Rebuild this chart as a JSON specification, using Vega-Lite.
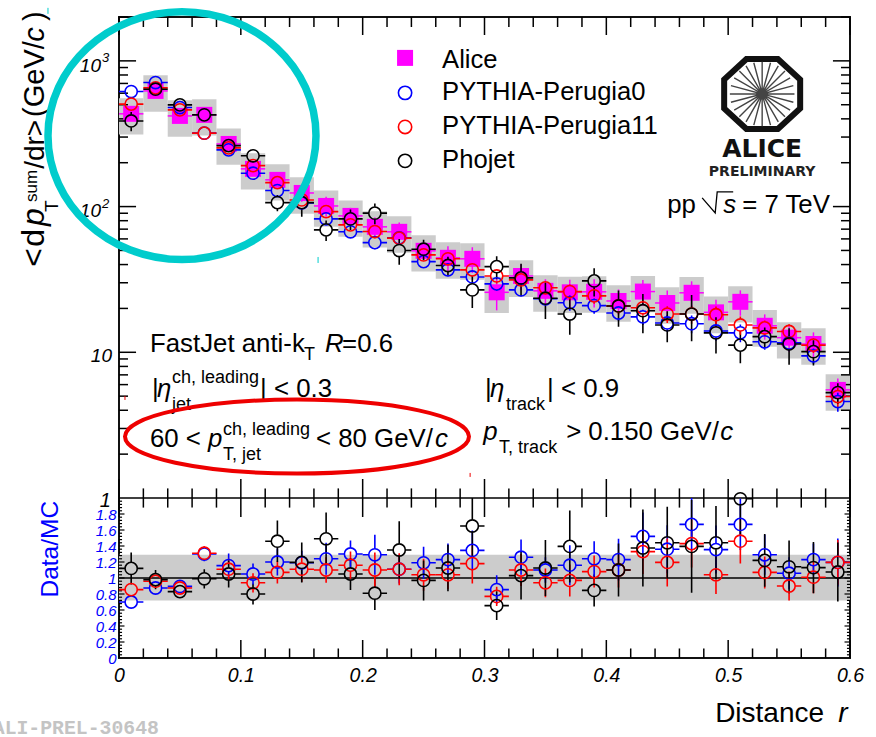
{"$schema":"https://vega.github.io/schema/vega-lite/v6.json","width":731,"height":641,"autosize":{"type":"none"},"padding":{"left":119,"top":17,"right":26,"bottom":79},"background":"white",
"config":{"view":{"stroke":"#111111","strokeWidth":2},"text":{"font":"Liberation Sans"},"axis":{"labelFont":"Liberation Sans","grid":false}},
"datasets":{
"alice":[{"r":0.01,"r0":0,"r1":0.02,"v":433,"lo":411,"hi":455,"slo":312,"shi":554},{"r":0.03,"r0":0.02,"r1":0.04,"v":622,"lo":603,"hi":641,"slo":448,"shi":796},{"r":0.05,"r0":0.04,"r1":0.06,"v":419,"lo":406,"hi":432,"slo":302,"shi":536},{"r":0.07,"r0":0.06,"r1":0.08,"v":426,"lo":413,"hi":439,"slo":307,"shi":545},{"r":0.09,"r0":0.08,"r1":0.1,"v":269,"lo":256,"hi":282,"slo":194,"shi":344},{"r":0.11,"r0":0.1,"r1":0.12,"v":181.5,"lo":172,"hi":191,"slo":131,"shi":232},{"r":0.13,"r0":0.12,"r1":0.14,"v":152.5,"lo":143,"hi":162,"slo":110,"shi":195},{"r":0.15,"r0":0.14,"r1":0.16,"v":124,"lo":108,"hi":140,"slo":89.3,"shi":159},{"r":0.17,"r0":0.16,"r1":0.18,"v":101,"lo":85,"hi":117,"slo":72.7,"shi":129},{"r":0.19,"r0":0.18,"r1":0.2,"v":86.3,"lo":75,"hi":98,"slo":62.1,"shi":110},{"r":0.21,"r0":0.2,"r1":0.22,"v":72.6,"lo":61,"hi":84,"slo":52.3,"shi":92.9},{"r":0.23,"r0":0.22,"r1":0.24,"v":67.1,"lo":56.4,"hi":77.8,"slo":48.3,"shi":85.9},{"r":0.25,"r0":0.24,"r1":0.26,"v":49.7,"lo":43.2,"hi":56.2,"slo":35.8,"shi":63.6},{"r":0.27,"r0":0.26,"r1":0.28,"v":44.5,"lo":35.6,"hi":53.4,"slo":32,"shi":57},{"r":0.29,"r0":0.28,"r1":0.3,"v":43.8,"lo":35,"hi":52.6,"slo":31.5,"shi":56.1},{"r":0.31,"r0":0.3,"r1":0.32,"v":25.8,"lo":19.4,"hi":32.3,"slo":18.6,"shi":33},{"r":0.33,"r0":0.32,"r1":0.34,"v":33.4,"lo":26.7,"hi":40,"slo":24,"shi":42.8},{"r":0.35,"r0":0.34,"r1":0.36,"v":26.4,"lo":21.1,"hi":31.7,"slo":19,"shi":33.8},{"r":0.37,"r0":0.36,"r1":0.38,"v":25.8,"lo":20.1,"hi":31.5,"slo":18.6,"shi":33},{"r":0.39,"r0":0.38,"r1":0.4,"v":26,"lo":20.3,"hi":31.7,"slo":18.7,"shi":33.3},{"r":0.41,"r0":0.4,"r1":0.42,"v":22.5,"lo":18,"hi":27,"slo":16.2,"shi":28.8},{"r":0.43,"r0":0.42,"r1":0.44,"v":26.1,"lo":20.9,"hi":31.3,"slo":18.8,"shi":33.4},{"r":0.45,"r0":0.44,"r1":0.46,"v":21.8,"lo":17,"hi":26.6,"slo":15.7,"shi":27.9},{"r":0.47,"r0":0.46,"r1":0.48,"v":25.6,"lo":20.5,"hi":30.7,"slo":18.4,"shi":32.8},{"r":0.49,"r0":0.48,"r1":0.5,"v":18.8,"lo":14.7,"hi":22.9,"slo":13.5,"shi":24.1},{"r":0.51,"r0":0.5,"r1":0.52,"v":22.2,"lo":17.8,"hi":26.6,"slo":16,"shi":28.4},{"r":0.53,"r0":0.52,"r1":0.54,"v":15.2,"lo":12.2,"hi":18.2,"slo":10.9,"shi":19.5},{"r":0.55,"r0":0.54,"r1":0.56,"v":12.6,"lo":10.1,"hi":15.1,"slo":9.07,"shi":16.1},{"r":0.57,"r0":0.56,"r1":0.58,"v":11.4,"lo":9.1,"hi":13.7,"slo":8.21,"shi":14.6},{"r":0.59,"r0":0.58,"r1":0.6,"v":5.52,"lo":4.4,"hi":6.6,"slo":3.97,"shi":7.07}],
"mc":[
{"m":"PYTHIA-Perugia0","r":0.01,"v":616,"lo":598,"hi":634},{"m":"PYTHIA-Perugia0","r":0.03,"v":710,"lo":689,"hi":731},{"m":"PYTHIA-Perugia0","r":0.05,"v":478,"lo":464,"hi":492},{"m":"PYTHIA-Perugia0","r":0.07,"v":319,"lo":309,"hi":329},{"m":"PYTHIA-Perugia0","r":0.09,"v":245,"lo":235,"hi":255},{"m":"PYTHIA-Perugia0","r":0.11,"v":169.5,"lo":161,"hi":178},{"m":"PYTHIA-Perugia0","r":0.13,"v":128.8,"lo":121,"hi":137},{"m":"PYTHIA-Perugia0","r":0.15,"v":106,"lo":98.6,"hi":113},{"m":"PYTHIA-Perugia0","r":0.17,"v":82.3,"lo":75.7,"hi":88.9},{"m":"PYTHIA-Perugia0","r":0.19,"v":67.1,"lo":61.7,"hi":72.5},{"m":"PYTHIA-Perugia0","r":0.21,"v":56.6,"lo":50.9,"hi":62.3},{"m":"PYTHIA-Perugia0","r":0.23,"v":61,"lo":55.5,"hi":66.5},{"m":"PYTHIA-Perugia0","r":0.25,"v":41.9,"lo":38.1,"hi":45.7},{"m":"PYTHIA-Perugia0","r":0.27,"v":36.8,"lo":33.1,"hi":40.5},{"m":"PYTHIA-Perugia0","r":0.29,"v":32.9,"lo":29.6,"hi":36.2},{"m":"PYTHIA-Perugia0","r":0.31,"v":29.5,"lo":26.3,"hi":32.7},{"m":"PYTHIA-Perugia0","r":0.33,"v":26.8,"lo":24.1,"hi":29.5},{"m":"PYTHIA-Perugia0","r":0.35,"v":23.3,"lo":21,"hi":25.6},{"m":"PYTHIA-Perugia0","r":0.37,"v":21.9,"lo":19.3,"hi":24.5},{"m":"PYTHIA-Perugia0","r":0.39,"v":20.9,"lo":18.4,"hi":23.4},{"m":"PYTHIA-Perugia0","r":0.41,"v":18.6,"lo":16.4,"hi":20.8},{"m":"PYTHIA-Perugia0","r":0.43,"v":17.5,"lo":15.4,"hi":19.6},{"m":"PYTHIA-Perugia0","r":0.45,"v":15.9,"lo":13.8,"hi":18},{"m":"PYTHIA-Perugia0","r":0.47,"v":15.7,"lo":13.5,"hi":17.9},{"m":"PYTHIA-Perugia0","r":0.49,"v":14,"lo":12,"hi":16},{"m":"PYTHIA-Perugia0","r":0.51,"v":13.6,"lo":11.7,"hi":15.5},{"m":"PYTHIA-Perugia0","r":0.53,"v":11.8,"lo":10.4,"hi":13.2},{"m":"PYTHIA-Perugia0","r":0.55,"v":11.6,"lo":10.2,"hi":13},{"m":"PYTHIA-Perugia0","r":0.57,"v":9.45,"lo":8.32,"hi":10.6},{"m":"PYTHIA-Perugia0","r":0.59,"v":4.59,"lo":3.9,"hi":5.28},
{"m":"PYTHIA-Perugia11","r":0.01,"v":505,"lo":490,"hi":520},{"m":"PYTHIA-Perugia11","r":0.03,"v":653,"lo":633,"hi":673},{"m":"PYTHIA-Perugia11","r":0.05,"v":461,"lo":447,"hi":475},{"m":"PYTHIA-Perugia11","r":0.07,"v":319,"lo":309,"hi":329},{"m":"PYTHIA-Perugia11","r":0.09,"v":253,"lo":243,"hi":263},{"m":"PYTHIA-Perugia11","r":0.11,"v":191,"lo":181,"hi":201},{"m":"PYTHIA-Perugia11","r":0.13,"v":146,"lo":137,"hi":155},{"m":"PYTHIA-Perugia11","r":0.15,"v":111,"lo":103,"hi":119},{"m":"PYTHIA-Perugia11","r":0.17,"v":92.4,"lo":85,"hi":99.8},{"m":"PYTHIA-Perugia11","r":0.19,"v":74.9,"lo":68.9,"hi":80.9},{"m":"PYTHIA-Perugia11","r":0.21,"v":67.4,"lo":60.7,"hi":74.1},{"m":"PYTHIA-Perugia11","r":0.23,"v":60.7,"lo":55.2,"hi":66.2},{"m":"PYTHIA-Perugia11","r":0.25,"v":46.6,"lo":42.4,"hi":50.8},{"m":"PYTHIA-Perugia11","r":0.27,"v":43.8,"lo":39.4,"hi":48.2},{"m":"PYTHIA-Perugia11","r":0.29,"v":36.8,"lo":33.1,"hi":40.5},{"m":"PYTHIA-Perugia11","r":0.31,"v":33.4,"lo":29.7,"hi":37.1},{"m":"PYTHIA-Perugia11","r":0.33,"v":31.4,"lo":28.3,"hi":34.5},{"m":"PYTHIA-Perugia11","r":0.35,"v":27.7,"lo":24.9,"hi":30.5},{"m":"PYTHIA-Perugia11","r":0.37,"v":26.1,"lo":23,"hi":29.2},{"m":"PYTHIA-Perugia11","r":0.39,"v":24.4,"lo":21.5,"hi":27.3},{"m":"PYTHIA-Perugia11","r":0.41,"v":20.8,"lo":18.3,"hi":23.3},{"m":"PYTHIA-Perugia11","r":0.43,"v":20.2,"lo":17.8,"hi":22.6},{"m":"PYTHIA-Perugia11","r":0.45,"v":18.3,"lo":15.9,"hi":20.7},{"m":"PYTHIA-Perugia11","r":0.47,"v":18.3,"lo":15.7,"hi":20.9},{"m":"PYTHIA-Perugia11","r":0.49,"v":18.1,"lo":15.6,"hi":20.6},{"m":"PYTHIA-Perugia11","r":0.51,"v":15.4,"lo":13.2,"hi":17.6},{"m":"PYTHIA-Perugia11","r":0.53,"v":14.7,"lo":12.9,"hi":16.5},{"m":"PYTHIA-Perugia11","r":0.55,"v":13.9,"lo":12.2,"hi":15.6},{"m":"PYTHIA-Perugia11","r":0.57,"v":11.2,"lo":9.9,"hi":12.5},{"m":"PYTHIA-Perugia11","r":0.59,"v":4.97,"lo":4.2,"hi":5.7},
{"m":"Phojet","r":0.01,"v":387,"lo":329,"hi":445},{"m":"Phojet","r":0.03,"v":639,"lo":588,"hi":690},{"m":"Phojet","r":0.05,"v":499,"lo":459,"hi":539},{"m":"Phojet","r":0.07,"v":426,"lo":392,"hi":460},{"m":"Phojet","r":0.09,"v":262,"lo":241,"hi":283},{"m":"Phojet","r":0.11,"v":223,"lo":201,"hi":245},{"m":"Phojet","r":0.13,"v":106.5,"lo":92.7,"hi":120},{"m":"Phojet","r":0.15,"v":106.5,"lo":85.2,"hi":128},{"m":"Phojet","r":0.17,"v":69.2,"lo":58.1,"hi":80.3},{"m":"Phojet","r":0.19,"v":82.3,"lo":69.1,"hi":95.5},{"m":"Phojet","r":0.21,"v":90.1,"lo":75.7,"hi":105},{"m":"Phojet","r":0.23,"v":49.9,"lo":39.9,"hi":59.9},{"m":"Phojet","r":0.25,"v":51,"lo":42.8,"hi":59.2},{"m":"Phojet","r":0.27,"v":39.4,"lo":33.5,"hi":45.3},{"m":"Phojet","r":0.29,"v":26.8,"lo":20.1,"hi":33.5},{"m":"Phojet","r":0.31,"v":38.7,"lo":31.7,"hi":45.7},{"m":"Phojet","r":0.33,"v":32.4,"lo":24.3,"hi":40.5},{"m":"Phojet","r":0.35,"v":23.5,"lo":16.9,"hi":30.1},{"m":"Phojet","r":0.37,"v":18.3,"lo":13.2,"hi":23.4},{"m":"Phojet","r":0.39,"v":30.9,"lo":24.1,"hi":37.7},{"m":"Phojet","r":0.41,"v":20.8,"lo":15,"hi":26.6},{"m":"Phojet","r":0.43,"v":19.3,"lo":13.5,"hi":25.1},{"m":"Phojet","r":0.45,"v":15.4,"lo":11.7,"hi":19.1},{"m":"Phojet","r":0.47,"v":18.3,"lo":11.9,"hi":24.7},{"m":"Phojet","r":0.49,"v":13.6,"lo":9.8,"hi":17.4},{"m":"Phojet","r":0.51,"v":11.2,"lo":8.4,"hi":14},{"m":"Phojet","r":0.53,"v":12.8,"lo":10.8,"hi":14.8},{"m":"Phojet","r":0.55,"v":11.4,"lo":8.2,"hi":14.6},{"m":"Phojet","r":0.57,"v":10.1,"lo":8.1,"hi":12.1},{"m":"Phojet","r":0.59,"v":5.29,"lo":4.44,"hi":6.14}],
"ratio":[
{"m":"PYTHIA-Perugia0","r":0.01,"v":0.7,"lo":0.63,"hi":0.77},{"m":"PYTHIA-Perugia0","r":0.03,"v":0.875,"lo":0.825,"hi":0.925},{"m":"PYTHIA-Perugia0","r":0.05,"v":0.895,"lo":0.845,"hi":0.945},{"m":"PYTHIA-Perugia0","r":0.07,"v":1.3,"lo":1.21,"hi":1.39},{"m":"PYTHIA-Perugia0","r":0.09,"v":1.155,"lo":1.005,"hi":1.305},{"m":"PYTHIA-Perugia0","r":0.11,"v":1.05,"lo":0.92,"hi":1.18},{"m":"PYTHIA-Perugia0","r":0.13,"v":1.2,"lo":1.03,"hi":1.37},{"m":"PYTHIA-Perugia0","r":0.15,"v":1.19,"lo":1.04,"hi":1.34},{"m":"PYTHIA-Perugia0","r":0.17,"v":1.24,"lo":1.04,"hi":1.44},{"m":"PYTHIA-Perugia0","r":0.19,"v":1.3,"lo":1.13,"hi":1.47},{"m":"PYTHIA-Perugia0","r":0.21,"v":1.29,"lo":1.04,"hi":1.54},{"m":"PYTHIA-Perugia0","r":0.23,"v":1.11,"lo":0.93,"hi":1.29},{"m":"PYTHIA-Perugia0","r":0.25,"v":1.19,"lo":0.99,"hi":1.39},{"m":"PYTHIA-Perugia0","r":0.27,"v":1.23,"lo":1.03,"hi":1.43},{"m":"PYTHIA-Perugia0","r":0.29,"v":1.345,"lo":1.095,"hi":1.595},{"m":"PYTHIA-Perugia0","r":0.31,"v":0.855,"lo":0.675,"hi":1.035},{"m":"PYTHIA-Perugia0","r":0.33,"v":1.26,"lo":1.04,"hi":1.48},{"m":"PYTHIA-Perugia0","r":0.35,"v":1.1,"lo":0.94,"hi":1.26},{"m":"PYTHIA-Perugia0","r":0.37,"v":1.16,"lo":0.91,"hi":1.41},{"m":"PYTHIA-Perugia0","r":0.39,"v":1.24,"lo":1.02,"hi":1.46},{"m":"PYTHIA-Perugia0","r":0.41,"v":1.23,"lo":0.97,"hi":1.49},{"m":"PYTHIA-Perugia0","r":0.43,"v":1.52,"lo":1.22,"hi":1.82},{"m":"PYTHIA-Perugia0","r":0.45,"v":1.36,"lo":1.06,"hi":1.66},{"m":"PYTHIA-Perugia0","r":0.47,"v":1.67,"lo":1.34,"hi":2},{"m":"PYTHIA-Perugia0","r":0.49,"v":1.355,"lo":1.055,"hi":1.655},{"m":"PYTHIA-Perugia0","r":0.51,"v":1.67,"lo":1.35,"hi":1.99},{"m":"PYTHIA-Perugia0","r":0.53,"v":1.29,"lo":1.04,"hi":1.54},{"m":"PYTHIA-Perugia0","r":0.55,"v":1.06,"lo":0.86,"hi":1.26},{"m":"PYTHIA-Perugia0","r":0.57,"v":1.23,"lo":1.03,"hi":1.43},{"m":"PYTHIA-Perugia0","r":0.59,"v":1.195,"lo":0.895,"hi":1.495},
{"m":"PYTHIA-Perugia11","r":0.01,"v":0.855,"lo":0.785,"hi":0.925},{"m":"PYTHIA-Perugia11","r":0.03,"v":0.96,"lo":0.9,"hi":1.02},{"m":"PYTHIA-Perugia11","r":0.05,"v":0.875,"lo":0.825,"hi":0.925},{"m":"PYTHIA-Perugia11","r":0.07,"v":1.31,"lo":1.22,"hi":1.4},{"m":"PYTHIA-Perugia11","r":0.09,"v":1.11,"lo":0.98,"hi":1.24},{"m":"PYTHIA-Perugia11","r":0.11,"v":0.94,"lo":0.82,"hi":1.06},{"m":"PYTHIA-Perugia11","r":0.13,"v":1.07,"lo":0.93,"hi":1.21},{"m":"PYTHIA-Perugia11","r":0.15,"v":1.11,"lo":0.95,"hi":1.27},{"m":"PYTHIA-Perugia11","r":0.17,"v":1.1,"lo":0.94,"hi":1.26},{"m":"PYTHIA-Perugia11","r":0.19,"v":1.16,"lo":0.99,"hi":1.33},{"m":"PYTHIA-Perugia11","r":0.21,"v":1.1,"lo":0.88,"hi":1.32},{"m":"PYTHIA-Perugia11","r":0.23,"v":1.11,"lo":0.91,"hi":1.31},{"m":"PYTHIA-Perugia11","r":0.25,"v":1.04,"lo":0.84,"hi":1.24},{"m":"PYTHIA-Perugia11","r":0.27,"v":1.04,"lo":0.86,"hi":1.22},{"m":"PYTHIA-Perugia11","r":0.29,"v":1.18,"lo":0.93,"hi":1.43},{"m":"PYTHIA-Perugia11","r":0.31,"v":0.77,"lo":0.65,"hi":0.89},{"m":"PYTHIA-Perugia11","r":0.33,"v":1.1,"lo":0.9,"hi":1.3},{"m":"PYTHIA-Perugia11","r":0.35,"v":0.94,"lo":0.76,"hi":1.12},{"m":"PYTHIA-Perugia11","r":0.37,"v":0.97,"lo":0.77,"hi":1.17},{"m":"PYTHIA-Perugia11","r":0.39,"v":1.08,"lo":0.88,"hi":1.28},{"m":"PYTHIA-Perugia11","r":0.41,"v":1.1,"lo":0.88,"hi":1.32},{"m":"PYTHIA-Perugia11","r":0.43,"v":1.33,"lo":1.05,"hi":1.61},{"m":"PYTHIA-Perugia11","r":0.45,"v":1.195,"lo":0.895,"hi":1.495},{"m":"PYTHIA-Perugia11","r":0.47,"v":1.43,"lo":1.13,"hi":1.73},{"m":"PYTHIA-Perugia11","r":0.49,"v":1.04,"lo":0.8,"hi":1.28},{"m":"PYTHIA-Perugia11","r":0.51,"v":1.46,"lo":1.18,"hi":1.74},{"m":"PYTHIA-Perugia11","r":0.53,"v":1.07,"lo":0.87,"hi":1.27},{"m":"PYTHIA-Perugia11","r":0.55,"v":0.9,"lo":0.72,"hi":1.08},{"m":"PYTHIA-Perugia11","r":0.57,"v":1.01,"lo":0.81,"hi":1.21},{"m":"PYTHIA-Perugia11","r":0.59,"v":1.195,"lo":0.915,"hi":1.475},
{"m":"Phojet","r":0.01,"v":1.12,"lo":0.92,"hi":1.32},{"m":"Phojet","r":0.03,"v":0.98,"lo":0.86,"hi":1.1},{"m":"Phojet","r":0.05,"v":0.83,"lo":0.75,"hi":0.91},{"m":"Phojet","r":0.07,"v":0.99,"lo":0.87,"hi":1.11},{"m":"Phojet","r":0.09,"v":1.05,"lo":0.88,"hi":1.22},{"m":"Phojet","r":0.11,"v":0.8,"lo":0.67,"hi":0.93},{"m":"Phojet","r":0.13,"v":1.46,"lo":1.2,"hi":1.72},{"m":"Phojet","r":0.15,"v":1.195,"lo":0.945,"hi":1.445},{"m":"Phojet","r":0.17,"v":1.49,"lo":1.16,"hi":1.82},{"m":"Phojet","r":0.19,"v":1.05,"lo":0.85,"hi":1.25},{"m":"Phojet","r":0.21,"v":0.81,"lo":0.6,"hi":1.02},{"m":"Phojet","r":0.23,"v":1.35,"lo":0.99,"hi":1.71},{"m":"Phojet","r":0.25,"v":0.97,"lo":0.72,"hi":1.22},{"m":"Phojet","r":0.27,"v":1.125,"lo":0.835,"hi":1.415},{"m":"Phojet","r":0.29,"v":1.65,"lo":1.25,"hi":2},{"m":"Phojet","r":0.31,"v":0.655,"lo":0.475,"hi":0.835},{"m":"Phojet","r":0.33,"v":1.03,"lo":0.73,"hi":1.33},{"m":"Phojet","r":0.35,"v":1.125,"lo":0.775,"hi":1.475},{"m":"Phojet","r":0.37,"v":1.395,"lo":0.945,"hi":1.845},{"m":"Phojet","r":0.39,"v":0.845,"lo":0.645,"hi":1.045},{"m":"Phojet","r":0.41,"v":1.1,"lo":0.77,"hi":1.43},{"m":"Phojet","r":0.43,"v":1.375,"lo":0.895,"hi":1.855},{"m":"Phojet","r":0.45,"v":1.44,"lo":0.99,"hi":1.89},{"m":"Phojet","r":0.47,"v":1.395,"lo":0.815,"hi":1.975},{"m":"Phojet","r":0.49,"v":1.44,"lo":0.98,"hi":1.9},{"m":"Phojet","r":0.51,"v":1.99,"lo":1.54,"hi":2},{"m":"Phojet","r":0.53,"v":1.22,"lo":0.89,"hi":1.55},{"m":"Phojet","r":0.55,"v":1.14,"lo":0.81,"hi":1.47},{"m":"Phojet","r":0.57,"v":1.13,"lo":0.81,"hi":1.45},{"m":"Phojet","r":0.59,"v":1.075,"lo":0.705,"hi":1.445}],
"xMajor":[{"r":0},{"r":0.1},{"r":0.2},{"r":0.3},{"r":0.4},{"r":0.5},{"r":0.6}],
"xMinor":[{"r":0.02},{"r":0.04},{"r":0.06},{"r":0.08},{"r":0.12},{"r":0.14},{"r":0.16},{"r":0.18},{"r":0.22},{"r":0.24},{"r":0.26},{"r":0.28},{"r":0.32},{"r":0.34},{"r":0.36},{"r":0.38},{"r":0.42},{"r":0.44},{"r":0.46},{"r":0.48},{"r":0.52},{"r":0.54},{"r":0.56},{"r":0.58}],
"logMajor":[{"v":10},{"v":100},{"v":1000}],
"logMinor":[{"v":2},{"v":3},{"v":4},{"v":5},{"v":6},{"v":7},{"v":8},{"v":9},{"v":20},{"v":30},{"v":40},{"v":50},{"v":60},{"v":70},{"v":80},{"v":90},{"v":200},{"v":300},{"v":400},{"v":500},{"v":600},{"v":700},{"v":800},{"v":900},{"v":2000}],
"ratMajor":[{"v":0.2},{"v":0.4},{"v":0.6},{"v":0.8},{"v":1},{"v":1.2},{"v":1.4},{"v":1.6},{"v":1.8}],
"ratMinor":[{"v":0.04},{"v":0.08},{"v":0.12},{"v":0.16},{"v":0.24},{"v":0.28},{"v":0.32},{"v":0.36},{"v":0.44},{"v":0.48},{"v":0.52},{"v":0.56},{"v":0.64},{"v":0.68},{"v":0.72},{"v":0.76},{"v":0.84},{"v":0.88},{"v":0.92},{"v":0.96},{"v":1.04},{"v":1.08},{"v":1.12},{"v":1.16},{"v":1.24},{"v":1.28},{"v":1.32},{"v":1.36},{"v":1.44},{"v":1.48},{"v":1.52},{"v":1.56},{"v":1.64},{"v":1.68},{"v":1.72},{"v":1.76},{"v":1.84},{"v":1.88},{"v":1.92},{"v":1.96}],
"txtMain":[{"r":0.02545,"v":10.06,"t":"FastJet anti-k"},{"r":0.1831,"v":10.06,"t":"=0.6"},{"r":0.0271,"v":4.94,"t":"|"},{"r":0.1158,"v":4.94,"t":"| < 0.3"},{"r":0.02545,"v":2.24,"t":"60 <"},{"r":0.1617,"v":2.24,"t":"< 80 GeV/"},{"r":0.3005,"v":4.94,"t":"|"},{"r":0.3514,"v":4.94,"t":"| < 0.9"},{"r":0.367,"v":2.5,"t":"> 0.150 GeV/"},{"r":0.4499,"v":90.5,"t":"pp"},{"r":0.5115,"v":90.5,"t":"= 7 TeV"}],
"txtMainIt":[{"r":0.1691,"v":10.06,"t":"R"},{"r":0.0312,"v":4.94,"t":"η"},{"r":0.0731,"v":2.24,"t":"p"},{"r":0.2594,"v":2.24,"t":"c"},{"r":0.3046,"v":4.94,"t":"η"},{"r":0.2989,"v":2.5,"t":"p"},{"r":0.4934,"v":2.5,"t":"c"},{"r":0.4959,"v":90.5,"t":"s"}],
"txtSub":[{"r":0.1519,"v":8.87,"t":"T"},{"r":0.0435,"v":6.17,"t":"ch, leading"},{"r":0.0435,"v":4.02,"t":"jet"},{"r":0.0854,"v":2.71,"t":"ch, leading"},{"r":0.0854,"v":1.83,"t":"T, jet"},{"r":0.3177,"v":4.02,"t":"track"},{"r":0.312,"v":2.04,"t":"T, track"}],
"legendRows":[{"r":0.2652,"v":1016,"t":"Alice"},{"r":0.2652,"v":608,"t":"PYTHIA-Perugia0"},{"r":0.2652,"v":355,"t":"PYTHIA-Perugia11"},{"r":0.2652,"v":209,"t":"Phojet"}],
"legendMc":[{"r":0.2348,"v":603,"m":"PYTHIA-Perugia0"},{"r":0.2348,"v":352,"m":"PYTHIA-Perugia11"},{"r":0.2348,"v":206,"m":"Phojet"}],
"logLabels":[{"r":-0.0148,"v":840.4,"t":"10"},{"r":-0.0148,"v":84.9,"t":"10"},{"r":-0.00575,"v":8.59,"t":"10"}],
"logExp":[{"r":-0.014,"v":984,"t":"3"},{"r":-0.014,"v":97.97,"t":"2"}]
},
"layer":[
{"layer":[
{"data":{"name":"alice"},"mark":{"type":"rect","color":"#cccccc"},"encoding":{"x":{"field":"r0","type":"quantitative","scale":{"domain":[0,0.6]},"axis":null},"x2":{"field":"r1"},"y":{"field":"slo","type":"quantitative","scale":{"type":"log","domain":[1,2000],"range":[481,0]},"axis":null},"y2":{"field":"shi"}}},
{"data":{"name":"logMajor"},"mark":{"type":"rule","color":"#000","strokeWidth":1.5},"encoding":{"x":{"datum":0,"type":"quantitative","scale":{"domain":[0,0.6]},"axis":null},"x2":{"datum":0.014},"y":{"field":"v","type":"quantitative","scale":{"type":"log","domain":[1,2000],"range":[481,0]},"axis":null}}},
{"data":{"name":"logMinor"},"mark":{"type":"rule","color":"#000","strokeWidth":1.5},"encoding":{"x":{"datum":0,"type":"quantitative","scale":{"domain":[0,0.6]},"axis":null},"x2":{"datum":0.0074},"y":{"field":"v","type":"quantitative","scale":{"type":"log","domain":[1,2000],"range":[481,0]},"axis":null}}},
{"data":{"name":"logMajor"},"mark":{"type":"rule","color":"#000","strokeWidth":1.5},"encoding":{"x":{"datum":0.6,"type":"quantitative","scale":{"domain":[0,0.6]},"axis":null},"x2":{"datum":0.586},"y":{"field":"v","type":"quantitative","scale":{"type":"log","domain":[1,2000],"range":[481,0]},"axis":null}}},
{"data":{"name":"logMinor"},"mark":{"type":"rule","color":"#000","strokeWidth":1.5},"encoding":{"x":{"datum":0.6,"type":"quantitative","scale":{"domain":[0,0.6]},"axis":null},"x2":{"datum":0.5926},"y":{"field":"v","type":"quantitative","scale":{"type":"log","domain":[1,2000],"range":[481,0]},"axis":null}}},
{"data":{"name":"xMajor"},"mark":{"type":"rule","color":"#000","strokeWidth":1.5},"encoding":{"x":{"field":"r","type":"quantitative","scale":{"domain":[0,0.6]},"axis":null},"y":{"datum":2000,"type":"quantitative","scale":{"type":"log","domain":[1,2000],"range":[481,0]},"axis":null},"y2":{"datum":1505}}},
{"data":{"name":"xMinor"},"mark":{"type":"rule","color":"#000","strokeWidth":1.5},"encoding":{"x":{"field":"r","type":"quantitative","scale":{"domain":[0,0.6]},"axis":null},"y":{"datum":2000,"type":"quantitative","scale":{"type":"log","domain":[1,2000],"range":[481,0]},"axis":null},"y2":{"datum":1708}}},
{"data":{"name":"alice"},"mark":{"type":"rule","color":"#ff00ff","strokeWidth":1.5},"encoding":{"x":{"field":"r","type":"quantitative","scale":{"domain":[0,0.6]},"axis":null},"y":{"field":"lo","type":"quantitative","scale":{"type":"log","domain":[1,2000],"range":[481,0]},"axis":null},"y2":{"field":"hi"}}},
{"data":{"name":"alice"},"mark":{"type":"point","shape":"M-1,0L1,0","size":595,"filled":false,"stroke":"#ff00ff","strokeWidth":1.5,"opacity":1},"encoding":{"x":{"field":"r","type":"quantitative","scale":{"domain":[0,0.6]},"axis":null},"y":{"field":"v","type":"quantitative","scale":{"type":"log","domain":[1,2000],"range":[481,0]},"axis":null}}},
{"data":{"name":"alice"},"mark":{"type":"point","shape":"square","size":256,"filled":true,"color":"#ff00ff","opacity":1},"encoding":{"x":{"field":"r","type":"quantitative","scale":{"domain":[0,0.6]},"axis":null},"y":{"field":"v","type":"quantitative","scale":{"type":"log","domain":[1,2000],"range":[481,0]},"axis":null}}},
{"data":{"name":"mc"},"mark":{"type":"rule","strokeWidth":1.6,"strokeDash":[0,6.4,2000]},"encoding":{"x":{"field":"r","type":"quantitative","scale":{"domain":[0,0.6]},"axis":null},"y":{"field":"v","type":"quantitative","scale":{"type":"log","domain":[1,2000],"range":[481,0]},"axis":null},"y2":{"field":"hi"},"color":{"field":"m","type":"nominal","scale":{"domain":["PYTHIA-Perugia0","PYTHIA-Perugia11","Phojet"],"range":["#0000ff","#ff0000","#000000"]},"legend":null}}},
{"data":{"name":"mc"},"mark":{"type":"rule","strokeWidth":1.6,"strokeDash":[0,6.4,2000]},"encoding":{"x":{"field":"r","type":"quantitative","scale":{"domain":[0,0.6]},"axis":null},"y":{"field":"v","type":"quantitative","scale":{"type":"log","domain":[1,2000],"range":[481,0]},"axis":null},"y2":{"field":"lo"},"color":{"field":"m","type":"nominal","scale":{"domain":["PYTHIA-Perugia0","PYTHIA-Perugia11","Phojet"],"range":["#0000ff","#ff0000","#000000"]},"legend":null}}},
{"data":{"name":"mc"},"mark":{"type":"point","shape":"M-1,0L-.5,0M.5,0L1,0M-.5,0A.5,.5 0 1 0 .5,0A.5,.5 0 1 0 -.5,0","size":595,"filled":false,"strokeWidth":1.6,"opacity":1},"encoding":{"x":{"field":"r","type":"quantitative","scale":{"domain":[0,0.6]},"axis":null},"y":{"field":"v","type":"quantitative","scale":{"type":"log","domain":[1,2000],"range":[481,0]},"axis":null},"color":{"field":"m","type":"nominal","scale":{"domain":["PYTHIA-Perugia0","PYTHIA-Perugia11","Phojet"],"range":["#0000ff","#ff0000","#000000"]},"legend":null}}},
{"data":{"name":"legendRows"},"mark":{"type":"text","fontSize":25.6,"align":"left","baseline":"middle","color":"#000"},"encoding":{"x":{"field":"r","type":"quantitative","scale":{"domain":[0,0.6]},"axis":null},"y":{"field":"v","type":"quantitative","scale":{"type":"log","domain":[1,2000],"range":[481,0]},"axis":null},"text":{"field":"t"}}},
{"data":{"values":[{"r":0.2348,"v":1048}]},"mark":{"type":"point","shape":"square","size":256,"filled":true,"color":"#ff00ff","opacity":1},"encoding":{"x":{"field":"r","type":"quantitative","scale":{"domain":[0,0.6]},"axis":null},"y":{"field":"v","type":"quantitative","scale":{"type":"log","domain":[1,2000],"range":[481,0]},"axis":null}}},
{"data":{"name":"legendMc"},"mark":{"type":"point","shape":"circle","size":177,"filled":false,"strokeWidth":1.6,"opacity":1},"encoding":{"x":{"field":"r","type":"quantitative","scale":{"domain":[0,0.6]},"axis":null},"y":{"field":"v","type":"quantitative","scale":{"type":"log","domain":[1,2000],"range":[481,0]},"axis":null},"color":{"field":"m","type":"nominal","scale":{"domain":["PYTHIA-Perugia0","PYTHIA-Perugia11","Phojet"],"range":["#0000ff","#ff0000","#000000"]},"legend":null}}},
{"data":{"name":"txtMain"},"mark":{"type":"text","fontSize":25.8,"align":"left","baseline":"alphabetic","color":"#000"},"encoding":{"x":{"field":"r","type":"quantitative","scale":{"domain":[0,0.6]},"axis":null},"y":{"field":"v","type":"quantitative","scale":{"type":"log","domain":[1,2000],"range":[481,0]},"axis":null},"text":{"field":"t"}}},
{"data":{"name":"txtMainIt"},"mark":{"type":"text","fontSize":25.8,"fontStyle":"italic","align":"left","baseline":"alphabetic","color":"#000"},"encoding":{"x":{"field":"r","type":"quantitative","scale":{"domain":[0,0.6]},"axis":null},"y":{"field":"v","type":"quantitative","scale":{"type":"log","domain":[1,2000],"range":[481,0]},"axis":null},"text":{"field":"t"}}},
{"data":{"name":"txtSub"},"mark":{"type":"text","fontSize":18,"align":"left","baseline":"alphabetic","color":"#000"},"encoding":{"x":{"field":"r","type":"quantitative","scale":{"domain":[0,0.6]},"axis":null},"y":{"field":"v","type":"quantitative","scale":{"type":"log","domain":[1,2000],"range":[481,0]},"axis":null},"text":{"field":"t"}}},
{"data":{"values":[{"r":0.491,"v":107.7}]},"mark":{"type":"point","shape":"M-.94,-.25L-.125,.69L0,-.625L1,-.625","size":1024,"filled":false,"stroke":"#000","strokeWidth":1.3,"opacity":1},"encoding":{"x":{"field":"r","type":"quantitative","scale":{"domain":[0,0.6]},"axis":null},"y":{"field":"v","type":"quantitative","scale":{"type":"log","domain":[1,2000],"range":[481,0]},"axis":null}}},
{"data":{"values":[{"r":0.5279,"v":593}]},"mark":{"type":"point","shape":"M-.414,-.92L.414,-.92L1,-.38L1,.38L.414,.92L-.414,.92L-1,.38L-1,-.38Z","size":5776,"filled":false,"stroke":"#111","strokeWidth":6,"opacity":1},"encoding":{"x":{"field":"r","type":"quantitative","scale":{"domain":[0,0.6]},"axis":null},"y":{"field":"v","type":"quantitative","scale":{"type":"log","domain":[1,2000],"range":[481,0]},"axis":null}}},
{"data":{"values":[{"r":0.5279,"v":593}]},"mark":{"type":"point","shape":"M-.85,0L.85,0M-.821,-.22L.821,.22M-.736,-.425L.736,.425M-.601,-.601L.601,.601M-.425,-.736L.425,.736M-.22,-.821L.22,.821M0,-.85L0,.85M.22,-.821L-.22,.821M.425,-.736L-.425,.736M.601,-.601L-.601,.601M.736,-.425L-.736,.425M.821,-.22L-.821,.22","size":5776,"filled":false,"stroke":"#444","strokeWidth":1.4,"opacity":1},"encoding":{"x":{"field":"r","type":"quantitative","scale":{"domain":[0,0.6]},"axis":null},"y":{"field":"v","type":"quantitative","scale":{"type":"log","domain":[1,2000],"range":[481,0]},"axis":null}}},
{"data":{"values":[{"r":0.5279,"v":219.4,"t":"ALICE"}]},"mark":{"type":"text","font":"DejaVu Sans","fontWeight":"bold","fontSize":25,"align":"center","baseline":"alphabetic","color":"#111"},"encoding":{"x":{"field":"r","type":"quantitative","scale":{"domain":[0,0.6]},"axis":null},"y":{"field":"v","type":"quantitative","scale":{"type":"log","domain":[1,2000],"range":[481,0]},"axis":null},"text":{"field":"t"}}},
{"data":{"values":[{"r":0.5279,"v":162.4,"t":"PRELIMINARY"}]},"mark":{"type":"text","font":"DejaVu Sans","fontWeight":"bold","fontSize":14,"align":"center","baseline":"alphabetic","color":"#222"},"encoding":{"x":{"field":"r","type":"quantitative","scale":{"domain":[0,0.6]},"axis":null},"y":{"field":"v","type":"quantitative","scale":{"type":"log","domain":[1,2000],"range":[481,0]},"axis":null},"text":{"field":"t"}}},
{"data":{"name":"logLabels"},"mark":{"type":"text","fontSize":19,"fontStyle":"italic","align":"right","baseline":"alphabetic","color":"#000"},"encoding":{"x":{"field":"r","type":"quantitative","scale":{"domain":[0,0.6]},"axis":null},"y":{"field":"v","type":"quantitative","scale":{"type":"log","domain":[1,2000],"range":[481,0]},"axis":null},"text":{"field":"t"}}},
{"data":{"name":"logExp"},"mark":{"type":"text","fontSize":13,"fontStyle":"italic","align":"left","baseline":"alphabetic","color":"#000"},"encoding":{"x":{"field":"r","type":"quantitative","scale":{"domain":[0,0.6]},"axis":null},"y":{"field":"v","type":"quantitative","scale":{"type":"log","domain":[1,2000],"range":[481,0]},"axis":null},"text":{"field":"t"}}},
{"data":{"values":[{"r":-0.0616,"v":38.6,"t":"<"},{"r":-0.0616,"v":52.9,"t":"d"}]},"mark":{"type":"text","fontSize":32,"angle":270,"align":"left","baseline":"alphabetic","color":"#000"},"encoding":{"x":{"field":"r","type":"quantitative","scale":{"domain":[0,0.6]},"axis":null},"y":{"field":"v","type":"quantitative","scale":{"type":"log","domain":[1,2000],"range":[481,0]},"axis":null},"text":{"field":"t"}}},
{"data":{"values":[{"r":-0.0616,"v":181.5,"t":"/dr>"}]},"mark":{"type":"text","fontSize":28,"angle":270,"align":"left","baseline":"alphabetic","color":"#000"},"encoding":{"x":{"field":"r","type":"quantitative","scale":{"domain":[0,0.6]},"axis":null},"y":{"field":"v","type":"quantitative","scale":{"type":"log","domain":[1,2000],"range":[481,0]},"axis":null},"text":{"field":"t"}}},
{"data":{"values":[{"r":-0.0616,"v":412.6,"t":"(GeV/"},{"r":-0.0616,"v":1881,"t":")"}]},"mark":{"type":"text","fontSize":29,"angle":270,"align":"left","baseline":"alphabetic","color":"#000"},"encoding":{"x":{"field":"r","type":"quantitative","scale":{"domain":[0,0.6]},"axis":null},"y":{"field":"v","type":"quantitative","scale":{"type":"log","domain":[1,2000],"range":[481,0]},"axis":null},"text":{"field":"t"}}},
{"data":{"values":[{"r":-0.0616,"v":73.7,"t":"p"}]},"mark":{"type":"text","fontSize":32,"fontStyle":"italic","angle":270,"align":"left","baseline":"alphabetic","color":"#000"},"encoding":{"x":{"field":"r","type":"quantitative","scale":{"domain":[0,0.6]},"axis":null},"y":{"field":"v","type":"quantitative","scale":{"type":"log","domain":[1,2000],"range":[481,0]},"axis":null},"text":{"field":"t"}}},
{"data":{"values":[{"r":-0.0616,"v":1350,"t":"c"}]},"mark":{"type":"text","fontSize":29,"fontStyle":"italic","angle":270,"align":"left","baseline":"alphabetic","color":"#000"},"encoding":{"x":{"field":"r","type":"quantitative","scale":{"domain":[0,0.6]},"axis":null},"y":{"field":"v","type":"quantitative","scale":{"type":"log","domain":[1,2000],"range":[481,0]},"axis":null},"text":{"field":"t"}}},
{"data":{"values":[{"r":-0.0673,"v":107.7,"t":"sum"}]},"mark":{"type":"text","fontSize":17,"angle":270,"align":"left","baseline":"alphabetic","color":"#000"},"encoding":{"x":{"field":"r","type":"quantitative","scale":{"domain":[0,0.6]},"axis":null},"y":{"field":"v","type":"quantitative","scale":{"type":"log","domain":[1,2000],"range":[481,0]},"axis":null},"text":{"field":"t"}}},
{"data":{"values":[{"r":-0.0501,"v":91.9,"t":"T"}]},"mark":{"type":"text","fontSize":19,"angle":270,"align":"left","baseline":"alphabetic","color":"#000"},"encoding":{"x":{"field":"r","type":"quantitative","scale":{"domain":[0,0.6]},"axis":null},"y":{"field":"v","type":"quantitative","scale":{"type":"log","domain":[1,2000],"range":[481,0]},"axis":null},"text":{"field":"t"}}},
{"data":{"values":[{"r":0.0517,"v":306.7}]},"mark":{"type":"point","shape":"M-1,0A1,.925 0 1 1 1,0A1,.925 0 1 1 -1,0Z","size":71824,"filled":false,"stroke":"#00cccc","strokeWidth":7.5,"opacity":1},"encoding":{"x":{"field":"r","type":"quantitative","scale":{"domain":[0,0.6]},"axis":null},"y":{"field":"v","type":"quantitative","scale":{"type":"log","domain":[1,2000],"range":[481,0]},"axis":null}}},
{"data":{"values":[{"r":0.1461,"v":2.64}]},"mark":{"type":"point","shape":"M-1,0A1,.215 0 1 1 1,0A1,.215 0 1 1 -1,0Z","size":118336,"filled":false,"stroke":"#ee0000","strokeWidth":4,"opacity":1},"encoding":{"x":{"field":"r","type":"quantitative","scale":{"domain":[0,0.6]},"axis":null},"y":{"field":"v","type":"quantitative","scale":{"type":"log","domain":[1,2000],"range":[481,0]},"axis":null}}},
{"data":{"values":[{"r":-0.0583,"v":2204},{"r":0.1634,"v":43}]},"mark":{"type":"point","shape":"M0,-1L0,1","size":36,"filled":false,"stroke":"#00cccc","strokeWidth":1,"opacity":1},"encoding":{"x":{"field":"r","type":"quantitative","scale":{"domain":[0,0.6]},"axis":null},"y":{"field":"v","type":"quantitative","scale":{"type":"log","domain":[1,2000],"range":[481,0]},"axis":null}}},
{"data":{"values":[{"r":0.0049,"v":4.86},{"r":0.2882,"v":1.44}]},"mark":{"type":"point","shape":"M0,-1L0,1","size":16,"filled":false,"stroke":"#ee0000","strokeWidth":1,"opacity":1},"encoding":{"x":{"field":"r","type":"quantitative","scale":{"domain":[0,0.6]},"axis":null},"y":{"field":"v","type":"quantitative","scale":{"type":"log","domain":[1,2000],"range":[481,0]},"axis":null}}}
]},
{"layer":[
{"data":{"values":[{"r":0,"r2":0.6,"lo":0.72,"hi":1.29}]},"mark":{"type":"rect","color":"#cccccc"},"encoding":{"x":{"field":"r","type":"quantitative","scale":{"domain":[0,0.6]},"axis":{"orient":"bottom","values":[0,0.1,0.2,0.3,0.4,0.5,0.6],"format":"~g","title":null,"ticks":false,"domain":false,"labelFontStyle":"italic","labelFontSize":19.5,"labelColor":"#000","labelPadding":8,"labelFlush":false}},"x2":{"field":"r2"},"y":{"field":"lo","type":"quantitative","scale":{"domain":[0,2],"range":[641,481]},"axis":{"orient":"left","values":[0,0.2,0.4,0.6,0.8,1,1.2,1.4,1.6,1.8],"format":"~g","title":null,"ticks":false,"domain":false,"labelFontStyle":"italic","labelFontSize":15,"labelColor":"#0000ff","labelPadding":3}},"y2":{"field":"hi"}}},
{"data":{"values":[{"v":1},{"v":2}]},"mark":{"type":"rule","color":"#000","strokeWidth":1.5},"encoding":{"y":{"field":"v","type":"quantitative","scale":{"domain":[0,2],"range":[641,481]},"axis":null}}},
{"data":{"name":"ratMajor"},"mark":{"type":"rule","color":"#000","strokeWidth":1.2},"encoding":{"x":{"datum":0,"type":"quantitative","scale":{"domain":[0,0.6]},"axis":null},"x2":{"datum":0.0045},"y":{"field":"v","type":"quantitative","scale":{"domain":[0,2],"range":[641,481]},"axis":null}}},
{"data":{"name":"ratMinor"},"mark":{"type":"rule","color":"#000","strokeWidth":1.2},"encoding":{"x":{"datum":0,"type":"quantitative","scale":{"domain":[0,0.6]},"axis":null},"x2":{"datum":0.0025},"y":{"field":"v","type":"quantitative","scale":{"domain":[0,2],"range":[641,481]},"axis":null}}},
{"data":{"name":"ratMajor"},"mark":{"type":"rule","color":"#000","strokeWidth":1.2},"encoding":{"x":{"datum":0.6,"type":"quantitative","scale":{"domain":[0,0.6]},"axis":null},"x2":{"datum":0.5955},"y":{"field":"v","type":"quantitative","scale":{"domain":[0,2],"range":[641,481]},"axis":null}}},
{"data":{"name":"ratMinor"},"mark":{"type":"rule","color":"#000","strokeWidth":1.2},"encoding":{"x":{"datum":0.6,"type":"quantitative","scale":{"domain":[0,0.6]},"axis":null},"x2":{"datum":0.5975},"y":{"field":"v","type":"quantitative","scale":{"domain":[0,2],"range":[641,481]},"axis":null}}},
{"data":{"name":"xMajor"},"mark":{"type":"rule","color":"#000","strokeWidth":1.5},"encoding":{"x":{"field":"r","type":"quantitative","scale":{"domain":[0,0.6]},"axis":null},"y":{"datum":2.2375,"type":"quantitative","scale":{"domain":[0,2],"range":[641,481]},"axis":null},"y2":{"datum":1.7625}}},
{"data":{"name":"xMinor"},"mark":{"type":"rule","color":"#000","strokeWidth":1.5},"encoding":{"x":{"field":"r","type":"quantitative","scale":{"domain":[0,0.6]},"axis":null},"y":{"datum":2.12,"type":"quantitative","scale":{"domain":[0,2],"range":[641,481]},"axis":null},"y2":{"datum":1.88}}},
{"data":{"name":"xMajor"},"mark":{"type":"rule","color":"#000","strokeWidth":1.5},"encoding":{"x":{"field":"r","type":"quantitative","scale":{"domain":[0,0.6]},"axis":null},"y":{"datum":0,"type":"quantitative","scale":{"domain":[0,2],"range":[641,481]},"axis":null},"y2":{"datum":0.225}}},
{"data":{"name":"xMinor"},"mark":{"type":"rule","color":"#000","strokeWidth":1.5},"encoding":{"x":{"field":"r","type":"quantitative","scale":{"domain":[0,0.6]},"axis":null},"y":{"datum":0,"type":"quantitative","scale":{"domain":[0,2],"range":[641,481]},"axis":null},"y2":{"datum":0.119}}},
{"data":{"name":"ratio"},"mark":{"type":"rule","strokeWidth":1.6,"strokeDash":[0,6.4,2000]},"encoding":{"x":{"field":"r","type":"quantitative","scale":{"domain":[0,0.6]},"axis":null},"y":{"field":"v","type":"quantitative","scale":{"domain":[0,2],"range":[641,481]},"axis":null},"y2":{"field":"hi"},"color":{"field":"m","type":"nominal","scale":{"domain":["PYTHIA-Perugia0","PYTHIA-Perugia11","Phojet"],"range":["#0000ff","#ff0000","#000000"]},"legend":null}}},
{"data":{"name":"ratio"},"mark":{"type":"rule","strokeWidth":1.6,"strokeDash":[0,6.4,2000]},"encoding":{"x":{"field":"r","type":"quantitative","scale":{"domain":[0,0.6]},"axis":null},"y":{"field":"v","type":"quantitative","scale":{"domain":[0,2],"range":[641,481]},"axis":null},"y2":{"field":"lo"},"color":{"field":"m","type":"nominal","scale":{"domain":["PYTHIA-Perugia0","PYTHIA-Perugia11","Phojet"],"range":["#0000ff","#ff0000","#000000"]},"legend":null}}},
{"data":{"name":"ratio"},"mark":{"type":"point","shape":"M-1,0L-.5,0M.5,0L1,0M-.5,0A.5,.5 0 1 0 .5,0A.5,.5 0 1 0 -.5,0","size":595,"filled":false,"strokeWidth":1.6,"opacity":1},"encoding":{"x":{"field":"r","type":"quantitative","scale":{"domain":[0,0.6]},"axis":null},"y":{"field":"v","type":"quantitative","scale":{"domain":[0,2],"range":[641,481]},"axis":null},"color":{"field":"m","type":"nominal","scale":{"domain":["PYTHIA-Perugia0","PYTHIA-Perugia11","Phojet"],"range":["#0000ff","#ff0000","#000000"]},"legend":null}}},
{"data":{"values":[{"r":-0.0066,"v":1.89,"t":"1"}]},"mark":{"type":"text","fontSize":20,"fontStyle":"italic","align":"right","baseline":"alphabetic","color":"#000"},"encoding":{"x":{"field":"r","type":"quantitative","scale":{"domain":[0,0.6]},"axis":null},"y":{"field":"v","type":"quantitative","scale":{"domain":[0,2],"range":[641,481]},"axis":null},"text":{"field":"t"}}},
{"data":{"values":[{"r":-0.05,"v":1.36,"t":"Data/MC"}]},"mark":{"type":"text","fontSize":24.5,"angle":270,"align":"center","baseline":"alphabetic","color":"#0000ff"},"encoding":{"x":{"field":"r","type":"quantitative","scale":{"domain":[0,0.6]},"axis":null},"y":{"field":"v","type":"quantitative","scale":{"domain":[0,2],"range":[641,481]},"axis":null},"text":{"field":"t"}}},
{"data":{"values":[{"r":0.4893,"v":-0.8,"t":"Distance"}]},"mark":{"type":"text","fontSize":28,"align":"left","baseline":"alphabetic","color":"#000"},"encoding":{"x":{"field":"r","type":"quantitative","scale":{"domain":[0,0.6]},"axis":null},"y":{"field":"v","type":"quantitative","scale":{"domain":[0,2],"range":[641,481]},"axis":null},"text":{"field":"t"}}},
{"data":{"values":[{"r":0.5903,"v":-0.8,"t":"r"}]},"mark":{"type":"text","fontSize":28,"fontStyle":"italic","align":"left","baseline":"alphabetic","color":"#000"},"encoding":{"x":{"field":"r","type":"quantitative","scale":{"domain":[0,0.6]},"axis":null},"y":{"field":"v","type":"quantitative","scale":{"domain":[0,2],"range":[641,481]},"axis":null},"text":{"field":"t"}}},
{"data":{"values":[{"r":0.0328,"v":-0.95,"t":"ALI-PREL-30648"}]},"mark":{"type":"text","font":"Liberation Mono","fontWeight":"bold","fontSize":19.8,"align":"right","baseline":"alphabetic","color":"#c4c4c4"},"encoding":{"x":{"field":"r","type":"quantitative","scale":{"domain":[0,0.6]},"axis":null},"y":{"field":"v","type":"quantitative","scale":{"domain":[0,2],"range":[641,481]},"axis":null},"text":{"field":"t"}}}
],"resolve":{"axis":{"x":"independent","y":"independent"}}}
],
"resolve":{"scale":{"y":"independent"},"axis":{"x":"independent","y":"independent"}}
}
